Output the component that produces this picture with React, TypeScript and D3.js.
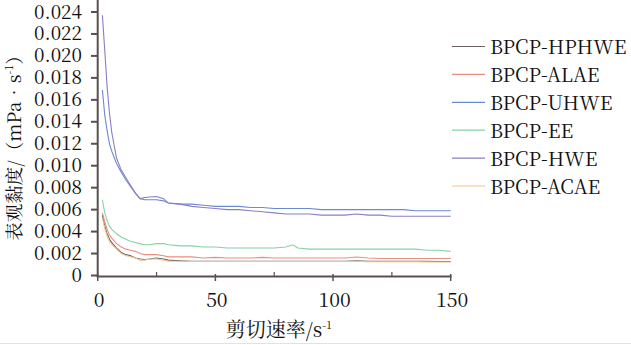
import React from "react";
import * as d3 from "d3";

const shearRate = [2, 3, 4, 5, 6, 8, 10, 12, 14, 16, 18, 20, 22, 25, 28, 30, 35, 40, 45, 50, 55, 60, 65, 70, 75, 80, 83, 85, 90, 95, 100, 105, 110, 115, 120, 125, 130, 135, 140, 145, 150];

const seriesNames = ["BPCP-HPHWE", "BPCP-ALAE", "BPCP-UHWE", "BPCP-EE", "BPCP-HWE", "BPCP-ACAE"];
const seriesColors = ["#6e6060", "#e98f80", "#6a8ad4", "#86d2a8", "#8d7cc4", "#f2c58e"];

const hphwe = [0.0055, 0.0045, 0.0038, 0.0033, 0.0030, 0.0025, 0.0021, 0.0019, 0.0018, 0.0016, 0.0015, 0.00145, 0.0015, 0.0016, 0.0015, 0.0014, 0.00135, 0.0013, 0.0013, 0.0013, 0.0013, 0.0013, 0.0013, 0.0013, 0.0013, 0.0013, 0.0013, 0.0013, 0.0013, 0.0013, 0.0013, 0.0013, 0.00135, 0.0013, 0.0013, 0.0013, 0.0013, 0.0013, 0.0013, 0.00128, 0.00128];
const alae = [0.0057, 0.0049, 0.0042, 0.0037, 0.0034, 0.0029, 0.0026, 0.0024, 0.0023, 0.0022, 0.0020, 0.0019, 0.0019, 0.0019, 0.0018, 0.0017, 0.0017, 0.0017, 0.0016, 0.00165, 0.0016, 0.0016, 0.0016, 0.00165, 0.0016, 0.0016, 0.0016, 0.0016, 0.0016, 0.0016, 0.0016, 0.0016, 0.00168, 0.0016, 0.00155, 0.00155, 0.00155, 0.00155, 0.00155, 0.00155, 0.00155];
const uhwe = [0.0169, 0.0146, 0.0132, 0.0120, 0.0113, 0.0102, 0.0094, 0.0087, 0.0081, 0.0075, 0.0070, 0.0069, 0.0069, 0.0069, 0.0068, 0.0066, 0.0065, 0.0065, 0.0064, 0.0063, 0.0063, 0.0063, 0.0062, 0.0062, 0.0061, 0.0061, 0.0061, 0.0061, 0.0061, 0.0060, 0.0060, 0.0060, 0.0060, 0.0060, 0.0060, 0.0060, 0.0060, 0.0059, 0.0059, 0.0059, 0.0059];
const ee = [0.0069, 0.0057, 0.0050, 0.0045, 0.0042, 0.0038, 0.0035, 0.0033, 0.0031, 0.0030, 0.0029, 0.0028, 0.0028, 0.0029, 0.0029, 0.0028, 0.0027, 0.0027, 0.0026, 0.0026, 0.0025, 0.0025, 0.0025, 0.0025, 0.0025, 0.0026, 0.0028, 0.0025, 0.0024, 0.0024, 0.0024, 0.0024, 0.0024, 0.0024, 0.0024, 0.0024, 0.0024, 0.0024, 0.0023, 0.0023, 0.0022];
const hwe = [0.0237, 0.0205, 0.0172, 0.0148, 0.0130, 0.0107, 0.0096, 0.0089, 0.0082, 0.0075, 0.0070, 0.0071, 0.00715, 0.0072, 0.0070, 0.0066, 0.0065, 0.0063, 0.0062, 0.0061, 0.0060, 0.0060, 0.0059, 0.0058, 0.0057, 0.0056, 0.0056, 0.0056, 0.0056, 0.0055, 0.0055, 0.0055, 0.0056, 0.0055, 0.0055, 0.0054, 0.0054, 0.0054, 0.0054, 0.0054, 0.0054];
const acae = [0.0052, 0.0043, 0.0036, 0.0031, 0.0028, 0.0024, 0.0020, 0.0018, 0.0017, 0.0016, 0.0014, 0.0014, 0.0015, 0.0015, 0.0014, 0.0013, 0.0013, 0.00128, 0.00128, 0.00128, 0.00128, 0.00128, 0.00128, 0.00128, 0.00128, 0.00128, 0.00128, 0.00128, 0.00128, 0.00128, 0.00128, 0.00128, 0.0013, 0.00125, 0.00125, 0.00125, 0.00125, 0.00125, 0.00123, 0.00123, 0.00123];

const seriesValues = [hphwe, alae, uhwe, ee, hwe, acae];

const yTicks = [0, 0.002, 0.004, 0.006, 0.008, 0.01, 0.012, 0.014, 0.016, 0.018, 0.02, 0.022, 0.024];
const xTicks = [0, 50, 100, 150];
const xMinorTicks = [25, 75, 125];

const W = 631;
const H = 345;
const AXIS = "#5a4f4f";
const CSS = `
svg#chart text, svg#chart tspan { font-family: 'Noto Serif CJK SC', serif !important; }
`;

export default function App() {
  const x = d3.scaleLinear().domain([0, 150]).range([97.7, 450.7]);
  const y = d3.scaleLinear().domain([0, 0.024]).range([275.5, 12]);
  const line = d3
    .line<number>()
    .x((_, i) => x(shearRate[i]))
    .y((d) => y(d));

  const yFmt = (v: number) => (v === 0 ? "0" : d3.format(".3f")(v));

  return (
    <svg id="chart" width={W} height={H} fontFamily="Noto Serif CJK SC" style={{ position: "absolute", left: 0, top: 0, background: "#fff" }}>
      <style>{CSS}</style>
      <rect x={0} y={0} width={W} height={H} fill="#fff" />
      <line x1={0} x2={W} y1={343.5} y2={343.5} stroke="#e2e2e2" strokeWidth={1} />

      {seriesValues.map((vals, i) => (
        <path key={seriesNames[i]} d={line(vals) || ""} fill="none" stroke={seriesColors[i]} strokeWidth={1.1} />
      ))}

      <line x1={97.7} x2={97.7} y1={0} y2={277} stroke={AXIS} strokeWidth={2} />
      <line x1={96.7} x2={451.5} y1={276.5} y2={276.5} stroke={AXIS} strokeWidth={2} />

      {yTicks.map((t) => (
        <line key={"yt" + t} x1={91} x2={97.7} y1={y(t)} y2={y(t)} stroke={AXIS} strokeWidth={2} />
      ))}
      {yTicks.map((t) => (
        <text key={"yl" + t} x={82} y={y(t) + 6.5} textAnchor="end" fontSize={19} fill="#111">
          {yFmt(t)}
        </text>
      ))}

      {xTicks.map((t) => (
        <line key={"xt" + t} x1={x(t)} x2={x(t)} y1={274} y2={281} stroke={AXIS} strokeWidth={1.5} />
      ))}
      {xTicks.map((t) => (
        <text key={"xl" + t} x={x(t) + 1.5} y={306.5} textAnchor="middle" fontSize={19.5} fill="#111">
          {t}
        </text>
      ))}
      {xMinorTicks.map((t) => (
        <line key={"xm" + t} x1={x(t)} x2={x(t)} y1={272} y2={277} stroke={AXIS} strokeWidth={1.2} />
      ))}

      <text x={279} y={337} textAnchor="middle" fontSize={20} fill="#111">
        <tspan>剪切速率</tspan>
        <tspan>/s</tspan>
        <tspan fontSize={11} dy={-8}>-1</tspan>
      </text>
      <text transform="translate(21,143.5) rotate(-90)" textAnchor="middle" fontSize={18.5} fill="#111">
        <tspan>表观黏度</tspan>
        <tspan>/</tspan>
        <tspan>（</tspan>
        <tspan>mPa•s</tspan>
        <tspan fontSize={11} dy={-8}>-1</tspan>
        <tspan dy={8}>）</tspan>
      </text>

      {seriesNames.map((name, i) => (
        <line key={"ll" + name} x1={452} x2={485} y1={46.5 + i * 27.9} y2={46.5 + i * 27.9} stroke={seriesColors[i]} strokeWidth={1.2} />
      ))}
      {seriesNames.map((name, i) => (
        <text key={"lt" + name} x={490} y={46.5 + i * 27.9 + 7.5} fontSize={19.5} fill="#111">
          {name}
        </text>
      ))}
    </svg>
  );
}
